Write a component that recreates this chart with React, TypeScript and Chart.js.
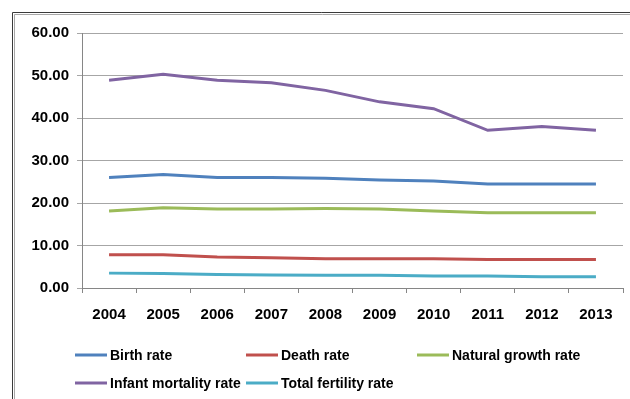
import React, { useEffect, useRef } from "react";
import { Chart, registerables } from "chart.js";

Chart.register(...registerables);

const years = ["2004", "2005", "2006", "2007", "2008", "2009", "2010", "2011", "2012", "2013"];
const birthRate = [26.0, 26.7, 26.0, 26.0, 25.8, 25.4, 25.2, 24.5, 24.5, 24.5];
const deathRate = [7.8, 7.8, 7.3, 7.1, 6.9, 6.9, 6.9, 6.7, 6.7, 6.7];
const naturalGrowthRate = [18.1, 18.9, 18.6, 18.6, 18.7, 18.6, 18.1, 17.7, 17.7, 17.7];
const infantMortalityRate = [48.9, 50.3, 48.9, 48.3, 46.5, 43.8, 42.2, 37.1, 38.0, 37.1];
const totalFertilityRate = [3.5, 3.4, 3.2, 3.05, 3.0, 3.0, 2.85, 2.85, 2.65, 2.65];
const yTicks = [0, 10, 20, 30, 40, 50, 60];

const seriesNames = ["Birth rate", "Death rate", "Natural growth rate", "Infant mortality rate", "Total fertility rate"];
const seriesColors = ["#4F81BD", "#C0504D", "#9BBB59", "#8064A2", "#4BACC6"];
const seriesValues = [birthRate, deathRate, naturalGrowthRate, infantMortalityRate, totalFertilityRate];

const FONT = "'Liberation Sans', Arial, sans-serif";

const framePlugin = {
  id: "frame",
  beforeDraw(chart: any) {
    const ctx = chart.ctx;
    ctx.save();
    ctx.fillStyle = "#ffffff";
    ctx.fillRect(0, 0, chart.width, chart.height);
    ctx.lineWidth = 1;
    ctx.strokeStyle = "#3a3a3a";
    ctx.beginPath();
    ctx.moveTo(12.5, chart.height + 5);
    ctx.lineTo(12.5, 12.5);
    ctx.lineTo(chart.width + 5, 12.5);
    ctx.stroke();
    ctx.strokeStyle = "#a8a8a8";
    ctx.beginPath();
    ctx.moveTo(14.5, chart.height + 5);
    ctx.lineTo(14.5, 14.5);
    ctx.lineTo(chart.width + 5, 14.5);
    ctx.stroke();
    ctx.restore();
  },
  afterDraw(chart: any) {
    const ctx = chart.ctx;
    ctx.save();
    ctx.font = "bold 14px " + FONT;
    ctx.textBaseline = "middle";
    ctx.fillStyle = "#000000";
    const cols = [75, 246, 417];
    const rows = [355, 383];
    chart.data.datasets.forEach((ds: any, i: number) => {
      const x = cols[i % 3];
      const y = rows[Math.floor(i / 3)];
      ctx.strokeStyle = ds.borderColor;
      ctx.lineWidth = 3;
      ctx.beginPath();
      ctx.moveTo(x, y);
      ctx.lineTo(x + 32, y);
      ctx.stroke();
      ctx.fillText(ds.label, x + 35, y + 1);
    });
    ctx.restore();
  },
};

export default function App() {
  const ref = useRef<HTMLCanvasElement | null>(null);
  useEffect(() => {
    document.body.style.margin = "0";
    const canvas = ref.current!;
    const chart = new Chart(canvas, {
      type: "line",
      data: {
        labels: years,
        datasets: seriesNames.map((name, i) => ({
          label: name,
          data: seriesValues[i],
          borderColor: seriesColors[i],
          backgroundColor: seriesColors[i],
          borderWidth: 3,
          pointRadius: 0,
          tension: 0,
          fill: false,
        })),
      },
      options: {
        animation: false,
        responsive: false,
        maintainAspectRatio: false,
        layout: { padding: { left: 0, right: 7, top: 33, bottom: 0 } },
        plugins: { legend: { display: false }, tooltip: { enabled: false } },
        scales: {
          x: {
            offset: true,
            grid: { display: true, drawOnChartArea: false, drawTicks: true, tickLength: 5, color: "#868686", offset: true },
            border: { display: true, color: "#868686" },
            ticks: { color: "#000", font: { family: FONT, size: 15, weight: "bold" }, padding: 13, maxRotation: 0 },
            afterFit(scale: any) {
              scale.height = 111;
            },
          },
          y: {
            min: 0,
            max: 60,
            afterBuildTicks(scale: any) {
              scale.ticks = yTicks.map((v) => ({ value: v }));
            },
            grid: { color: "#a6a6a6", tickLength: 5, drawTicks: true },
            border: { display: true, color: "#868686" },
            ticks: {
              color: "#000",
              font: { family: FONT, size: 15, weight: "bold" },
              padding: 8,
              callback: (v: any) => Number(v).toFixed(2),
            },
            afterFit(scale: any) {
              scale.width = 82;
            },
          },
        },
      },
      plugins: [framePlugin],
    });
    return () => chart.destroy();
  }, []);
  return (
    <div style={{ width: 630, height: 399 }}>
      <canvas ref={ref} width={630} height={399} style={{ display: "block" }} />
    </div>
  );
}
